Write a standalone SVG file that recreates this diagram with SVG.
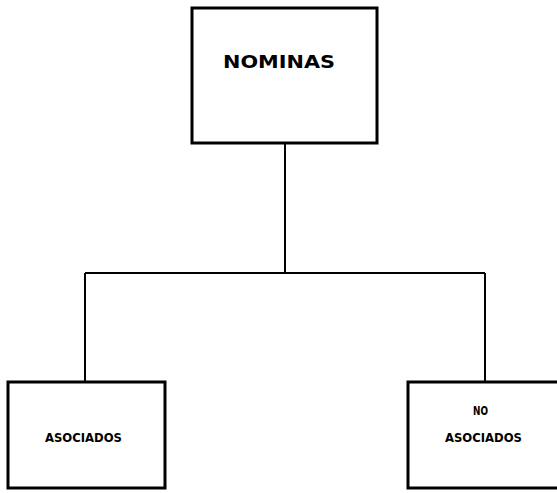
<svg xmlns="http://www.w3.org/2000/svg" width="557" height="493" viewBox="0 0 557 493">
<style>
.box{fill:#fff;stroke:#000;stroke-width:3}
.conn{fill:none;stroke:#000;stroke-width:2}
.t{font-family:"DejaVu Sans","Liberation Sans",sans-serif;font-weight:bold;fill:#000}
</style>
<rect width="557" height="493" fill="#fff"/>
<g id="connectors">
<line class="conn" x1="285" y1="143" x2="285" y2="273"/>
<line class="conn" x1="85" y1="273" x2="485" y2="273"/>
<line class="conn" x1="85" y1="273" x2="85" y2="382"/>
<line class="conn" x1="485" y1="273" x2="485" y2="382"/>
</g>
<g id="nominas">
<rect class="box" x="192" y="8" width="185" height="135"/>
<text class="t" x="223" y="68" font-size="17" textLength="112" lengthAdjust="spacingAndGlyphs">NOMINAS</text>
</g>
<g id="asociados">
<rect class="box" x="8" y="382" width="157" height="106"/>
<text class="t" x="45" y="442" font-size="13" textLength="77" lengthAdjust="spacingAndGlyphs">ASOCIADOS</text>
</g>
<g id="no-asociados">
<rect class="box" x="408" y="382" width="160" height="106"/>
<text class="t" x="473" y="415" font-size="13" textLength="15" lengthAdjust="spacingAndGlyphs">NO</text>
<text class="t" x="445" y="442" font-size="13" textLength="77" lengthAdjust="spacingAndGlyphs">ASOCIADOS</text>
</g>
</svg>
